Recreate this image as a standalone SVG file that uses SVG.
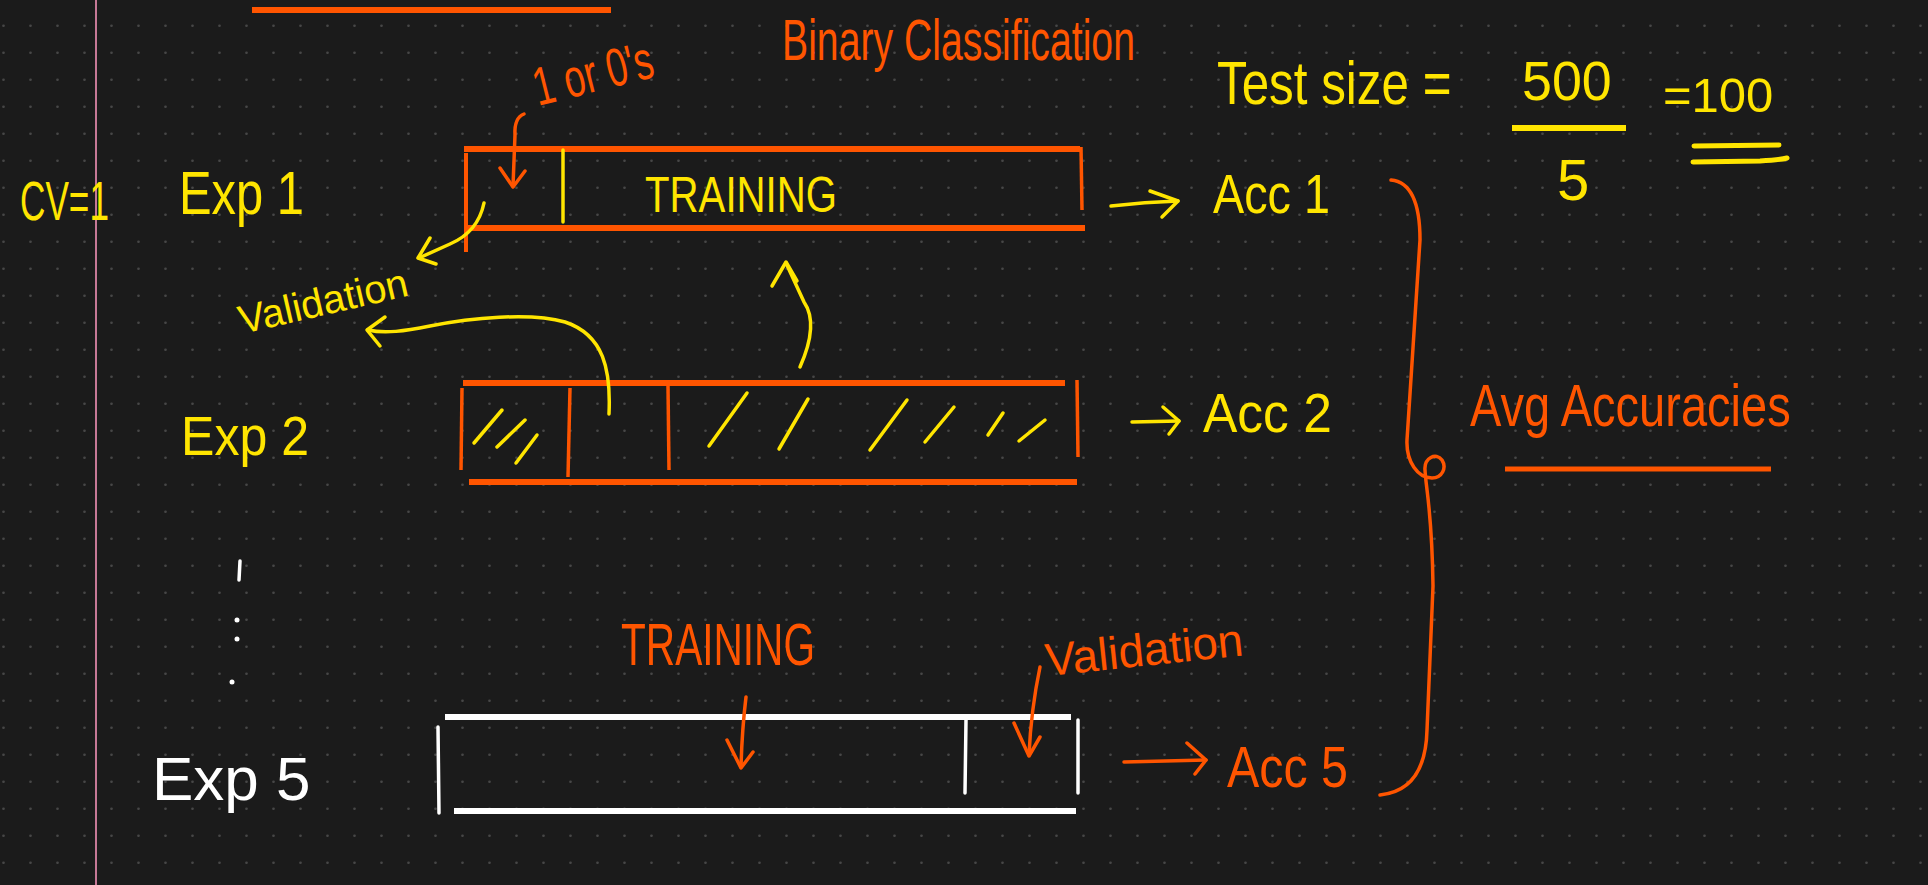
<svg xmlns="http://www.w3.org/2000/svg" width="1928" height="885" viewBox="0 0 1928 885">
<defs>
<pattern id="dots" width="27" height="27" patternUnits="userSpaceOnUse">
<circle cx="3.5" cy="25.7" r="1.3" fill="#474747"/>
</pattern>
<style>
.t{font-family:"Liberation Sans","DejaVu Sans",sans-serif;}
.y{fill:#FFE500;}
.o{fill:#FF5500;}
.w{fill:#FFFFFF;}
.sy{stroke:#FFE500;fill:none;stroke-width:3.5;stroke-linecap:round;stroke-linejoin:round;}
.so{stroke:#FF5500;fill:none;stroke-width:3.5;stroke-linecap:round;stroke-linejoin:round;}
.sw{stroke:#FFFFFF;fill:none;stroke-width:3.5;stroke-linecap:round;stroke-linejoin:round;}
.bo{stroke:#FF5500;fill:none;stroke-width:6;}
.bw{stroke:#FFFFFF;fill:none;stroke-width:6;}
</style>
</defs>
<rect width="1928" height="885" fill="#1b1b1b"/>
<rect width="1928" height="885" fill="url(#dots)"/>
<line x1="96" y1="0" x2="96" y2="885" stroke="#c57896" stroke-width="2"/>
<line x1="252" y1="10" x2="611" y2="10" class="bo"/>

<g id="title">
<text class="t o" transform="translate(782,60) scale(0.676,1)" font-size="58">Binary Classification</text>
</g>

<g id="cv">
<text class="t y" transform="translate(20,220) scale(0.628,1)" font-size="56">CV=1</text>
</g>

<g id="exp1-label">
<text class="t y" transform="translate(179,214) scale(0.789,1)" font-size="62">Exp 1</text>
</g>

<g id="labels-01">
<text class="t o" transform="translate(538,106) rotate(-14) scale(0.696,1)" font-size="54">1 or 0's</text>
</g>

<g id="exp1-box">
<line x1="464" y1="149" x2="1080" y2="149" class="bo"/>
<line x1="464" y1="228" x2="1085" y2="228" class="bo"/>
<line x1="466" y1="153" x2="466" y2="252" stroke="#FF5500" stroke-width="4"/>
<line x1="1081" y1="147" x2="1082" y2="210" stroke="#FF5500" stroke-width="3.5"/>
<line x1="563" y1="150" x2="563" y2="222" class="sy"/>
<text class="t y" transform="translate(645,212) scale(0.804,1)" font-size="50">TRAINING</text>
</g>

<g id="acc1">
<text class="t y" transform="translate(1213,213) scale(0.835,1)" font-size="56">Acc 1</text>
</g>

<g id="validation-label">
<text class="t y" transform="translate(242,334) rotate(-13)" font-size="40">Validation</text>
</g>

<g id="test-size">
<text class="t y" transform="translate(1217,104) scale(0.796,1)" font-size="62">Test size =</text>
<text class="t y" transform="translate(1522,100) scale(0.96,1)" font-size="56">500</text>
<line x1="1512" y1="128" x2="1626" y2="128" stroke="#FFE500" stroke-width="6"/>
<text class="t y" x="1557" y="200" font-size="58">5</text>
<text class="t y" x="1663" y="112" font-size="49">=100</text>
<line x1="1694" y1="146" x2="1779" y2="145" stroke="#FFE500" stroke-width="5" stroke-linecap="round"/>
<path d="M1693,162 L1760,161 Q1780,160 1787,158" stroke="#FFE500" stroke-width="5" fill="none" stroke-linecap="round"/>
</g>

<g id="exp2-label">
<text class="t y" transform="translate(181,455) scale(0.894,1)" font-size="56">Exp 2</text>
</g>

<g id="exp2-box">
<line x1="463" y1="383" x2="1065" y2="383" class="bo"/>
<line x1="469" y1="482" x2="1077" y2="482" class="bo"/>
<line x1="462" y1="388" x2="461" y2="470" stroke="#FF5500" stroke-width="3.5"/>
<line x1="570" y1="388" x2="568" y2="477" stroke="#FF5500" stroke-width="3.5"/>
<line x1="668" y1="386" x2="669" y2="470" stroke="#FF5500" stroke-width="3.5"/>
<line x1="1077" y1="380" x2="1078" y2="457" stroke="#FF5500" stroke-width="3.5"/>
<g class="sy">
<line x1="502" y1="410" x2="474" y2="443"/>
<line x1="525" y1="420" x2="497" y2="447"/>
<line x1="537" y1="435" x2="516" y2="463"/>
<line x1="747" y1="393" x2="709" y2="446"/>
<line x1="808" y1="399" x2="779" y2="449"/>
<line x1="907" y1="400" x2="870" y2="450"/>
<line x1="954" y1="407" x2="925" y2="442"/>
<line x1="1003" y1="413" x2="988" y2="435"/>
<line x1="1045" y1="420" x2="1019" y2="441"/>
</g>
</g>

<g id="acc2">
<text class="t y" transform="translate(1203,432) scale(0.92,1)" font-size="56">Acc 2</text>
</g>

<g id="ellipsis">
<line x1="240" y1="561" x2="239" y2="580" class="sw"/>
<circle cx="237" cy="620" r="2.5" fill="#fff"/>
<circle cx="237" cy="639" r="2.5" fill="#fff"/>
<circle cx="232" cy="682" r="2.5" fill="#fff"/>
</g>

<g id="exp5-label">
<text class="t w" x="152" y="800" font-size="62">Exp 5</text>
</g>

<g id="exp5-box">
<line x1="445" y1="717" x2="1071" y2="717" class="bw"/>
<line x1="454" y1="811" x2="1076" y2="811" class="bw"/>
<line x1="438" y1="727" x2="439" y2="813" class="sw"/>
<line x1="966" y1="720" x2="965" y2="793" class="sw"/>
<line x1="1078" y1="720" x2="1078" y2="793" class="sw"/>
</g>

<g id="training-label">
<text class="t o" transform="translate(621,665) scale(0.677,1)" font-size="60">TRAINING</text>
</g>

<g id="validation-label-2">
<text class="t o" transform="translate(1047,676) rotate(-6)" font-size="46">Validation</text>
</g>

<g id="acc5">
<text class="t o" transform="translate(1227,787) scale(0.834,1)" font-size="58">Acc 5</text>
</g>

<g id="avg">
<text class="t o" transform="translate(1470,426) scale(0.784,1)" font-size="60">Avg Accuracies</text>
<line x1="1505" y1="469" x2="1771" y2="469" stroke="#FF5500" stroke-width="5"/>
</g>

<g id="connectors">
<path class="so" d="M524,114 Q514,118 515,135 L513,186"/>
<path class="so" d="M500,168 L513,187 L525,171"/>
<path class="sy" d="M484,203 Q478,232 450,244 L419,258"/>
<path class="sy" d="M430,238 L418,258 L436,264"/>
<path class="sy" d="M609,414 C611,370 604,335 565,322 C530,312 470,318 430,326 C405,331 385,334 368,330"/>
<path class="sy" d="M385,317 L367,330 L380,346"/>
<path class="sy" d="M800,367 C812,340 815,318 804,302 L786,263"/>
<path class="sy" d="M772,286 L786,262 L797,281"/>
<path class="sy" d="M1111,206 Q1145,202 1178,201"/>
<path class="sy" d="M1150,191 L1178,201 L1162,217"/>
<path class="sy" d="M1132,422 L1179,421"/>
<path class="sy" d="M1163,407 L1179,421 L1169,434"/>
<path class="so" d="M1124,762 L1206,760"/>
<path class="so" d="M1187,743 L1206,760 L1195,774"/>
<path class="so" d="M746,697 Q742,730 741,767"/>
<path class="so" d="M727,740 L741,768 L753,752"/>
<path class="so" d="M1040,667 Q1031,710 1029,755"/>
<path class="so" d="M1014,723 L1029,756 L1040,737"/>
<path class="so" d="M1391,180 C1412,182 1420,205 1420,240 L1407,440 C1406,462 1418,478 1432,478 C1442,478 1447,468 1442,460 C1436,452 1424,458 1425,470 C1426,490 1432,510 1433,586 L1427,730 C1426,770 1410,792 1380,795"/>
</g>
</svg>
